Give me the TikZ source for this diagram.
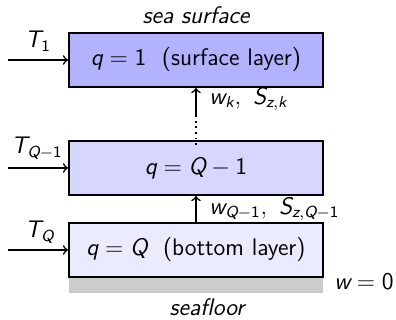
\documentclass[tikz,border=0pt]{standalone}
\usepackage{amsmath}
\renewcommand{\familydefault}{\sfdefault}
\newcommand{\sv}[1]{\text{\itshape #1}}
\newcommand{\sn}[1]{\text{\upshape #1}}
\tikzset{
  layer/.style={draw=black, line width=1pt, minimum width=127pt, minimum height=27pt, inner sep=0pt, font=\sffamily\large},
  lbl/.style={font=\sffamily\large, inner sep=0pt},
  ital/.style={font=\sffamily\itshape\large, inner sep=0pt},
  flow/.style={->, line width=0.8pt}
}
\begin{document}
\begin{tikzpicture}[x=0.5pt,y=-0.5pt]
\useasboundingbox (0,0) rectangle (396,320);
\fill[gray!40] (69,277) rectangle (323,293);
\node[layer, fill=blue!30] (l1) at (196,60) {$\sv{q} = \sn{1}$\ \ (surface layer)};
\node[layer, fill=blue!16] (l2) at (196,168) {$\sv{q} = \sv{Q} - \sn{1}$};
\node[layer, fill=blue!8] (l3) at (196,250) {$\sv{q} = \sv{Q}$\ \ (bottom layer)};
\node[ital] (ss) at (196,15) {sea surface};
\node[ital] (sf) at (207,307) {seafloor};
\coordinate (a1) at (8,60);
\coordinate (a2) at (8,168);
\coordinate (a3) at (8,250);
\draw[flow] (a1) -- (l1.west);
\draw[flow] (a2) -- (l2.west);
\draw[flow] (a3) -- (l3.west);
\node[lbl] (t1) at (38,41) {$\sv{T}_{\sn{1}}$};
\node[lbl] (t2) at (37,148) {$\sv{T}_{\sv{Q}-\sn{1}}$};
\node[lbl] (t3) at (40,232) {$\sv{T}_{\sv{Q}}$};
\coordinate (d1) at (196,145);
\coordinate (d2) at (196,116);
\draw[line width=1.1pt, dash pattern=on 0.9pt off 1.9pt] (d1) -- (d2);
\draw[flow] (d2) -- (l1.south);
\node[lbl, anchor=west] (wk) at (209,99) {$\sv{w}_{\sv{k}},\ \sv{S}_{\sv{z},\sv{k}}$};
\draw[flow] (l3.north) -- (l2.south);
\node[lbl, anchor=west] (wq) at (209,209) {$\sv{w}_{\sv{Q}-\sn{1}},\ \sv{S}_{\sv{z},\sv{Q}-\sn{1}}$};
\node[lbl] (w0) at (364,282) {$\sv{w} = \sn{0}$};
\end{tikzpicture}
\end{document}
